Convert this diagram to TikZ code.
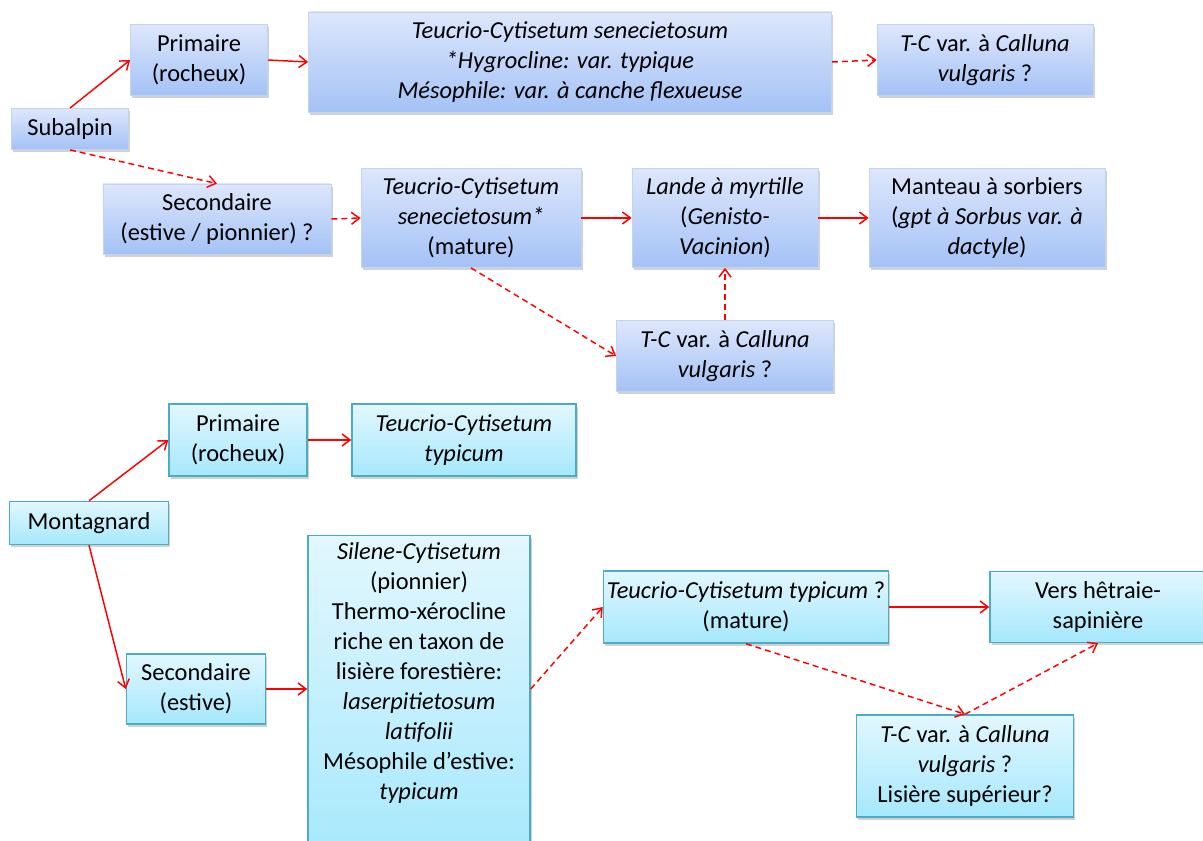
\documentclass[tikz,border=0pt]{standalone}
\usepackage{fontspec}
\setmainfont{Carlito}
\usetikzlibrary{arrows.meta,shadows}
\definecolor{SubTop}{HTML}{DDE7FC}
\definecolor{SubBot}{HTML}{A4C2F6}
\definecolor{SubLine}{HTML}{C2D4F0}
\definecolor{MonTop}{HTML}{E2F7FE}
\definecolor{MonBot}{HTML}{A5E8FC}
\definecolor{MonLine}{HTML}{4BACC6}
\definecolor{Flow}{HTML}{FF0000}
\tikzset{>={Straight Barb[length=6pt,width=9pt]},
 every node/.style={font=\fontsize{18.3}{22.5}\selectfont,text=black,align=center,inner sep=0pt},
 sz/.style 2 args={minimum width=#1*.75pt,minimum height=#2*.75pt},
 lift/.style={drop shadow={shadow xshift=1.2pt,shadow yshift=-2pt,fill=black,opacity=.18}},
 sbox/.style={lift,draw=SubLine,line width=.6pt,top color=SubTop,bottom color=SubBot},
 mbox/.style={lift,draw=MonLine,line width=1.1pt,top color=MonTop,bottom color=MonBot},
 arr/.style={->,draw=Flow,line width=1.1pt},
 darr/.style={arr,dash pattern=on 4.5pt off 3pt},
 }
\begin{document}
\begin{tikzpicture}[x=.75pt,y=-.75pt]
 \clip (0,0) rectangle (1203,841);
 % subalpin
 \node[sbox,sz={117}{41}] (sub) at (70,129) {Subalpin};
 \node[sbox,sz={137}{71}] (pri) at (199,60) {Primaire\\(rocheux)};
 \node[sbox,sz={523}{100}] (tcbig) at (570,62) {\textit{Teucrio-Cytisetum senecietosum}\\\textit{*Hygrocline: var. typique}\\\textit{Mésophile: var. à canche flexueuse}};
 \node[sbox,sz={216}{71}] (tctop) at (985,60) {\textit{T-C} var. à \textit{Calluna}\\\textit{vulgaris} ?};
 \node[sbox,sz={228}{70}] (sec) at (217,219) {Secondaire\\(estive / pionnier) ?};
 \node[sbox,sz={220}{99}] (tcs) at (471,218) {\textit{Teucrio-Cytisetum}\\\textit{senecietosum*}\\(mature)};
 \node[sbox,sz={186}{99}] (lande) at (725,218) {\textit{Lande à myrtille}\\(\textit{Genisto-}\\\textit{Vacinion})};
 \node[sbox,sz={236}{99}] (mant) at (987,218) {Manteau à sorbiers\\(\textit{gpt à Sorbus var. à}\\\textit{dactyle})};
 \node[sbox,sz={217}{71}] (tcm) at (725,356) {\textit{T-C} var. à \textit{Calluna}\\\textit{vulgaris} ?};
 % montagnard
 \node[mbox,sz={159}{43}] (mon) at (89,523) {Montagnard};
 \node[mbox,sz={138}{72}] (pri2) at (238,440) {Primaire\\(rocheux)};
 \node[mbox,sz={224}{72}] (tty) at (464,440) {\textit{Teucrio-Cytisetum}\\\textit{typicum}};
 \node[mbox,sz={139}{70}] (sec2) at (196,689) {Secondaire\\(estive)};
 \node[mbox,anchor=north] (sil) at (419,535) {\parbox[c][247.5pt][t]{166.5pt}{\centering\vspace*{5pt}%
  \textit{Silene-Cytisetum}\\(pionnier)\\Thermo-xérocline\\riche en taxon de\\lisière forestière:\\\textit{laserpitietosum}\\\textit{latifolii}\\Mésophile d’estive:\\\textit{typicum}}};
 \node[mbox,sz={285}{72}] (ttm) at (746,607) {\textit{Teucrio-Cytisetum typicum} ?\\(mature)};
 \node[mbox,sz={216}{71}] (vers) at (1098,607) {Vers hêtraie-\\sapinière};
 \node[mbox,sz={217}{102}] (tcb) at (965,766) {\textit{T-C} var. à \textit{Calluna}\\\textit{vulgaris} ?\\Lisière supérieur?};
 % arrows
 \draw[arr] (sub.north) -- (pri.west);
 \draw[darr] (sub.south) -- (sec.north);
 \draw[arr] (pri.east) -- (tcbig.west);
 \draw[darr] (tcbig.east) -- (tctop.west);
 \draw[darr] (sec.east) -- (tcs.west);
 \draw[arr] (tcs.east) -- (lande.west);
 \draw[arr] (lande.east) -- (mant.west);
 \draw[darr] (tcs.south) -- (tcm.west);
 \draw[darr] (tcm.north) -- (lande.south);
 \draw[arr] (mon.north) -- (pri2.west);
 \draw[arr] (mon.south) -- (sec2.west);
 \draw[arr] (pri2.east) -- (tty.west);
 \draw[arr] (sec2.east) -- (sec2.east -| sil.west);
 \draw[darr] (sil.east |- sec2.east) -- (ttm.west);
 \draw[arr] (ttm.east) -- (vers.west);
 \draw[darr] (ttm.south) -- (tcb.north);
 \draw[darr] (tcb.north) -- (vers.south);
\end{tikzpicture}
\end{document}
